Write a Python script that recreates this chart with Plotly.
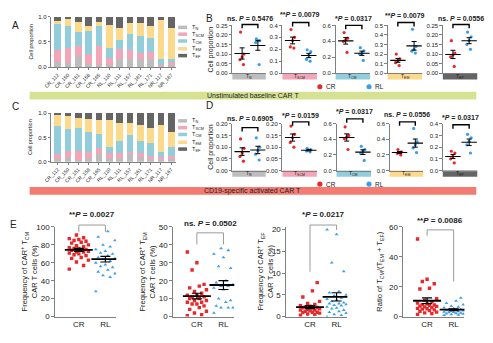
import numpy as np
import plotly.graph_objects as go

W, H = 493, 343
FONT = "Arial, Liberation Sans, sans-serif"

# ---------------- data ----------------
samples = ["CR_112", "CR_150", "CR_151", "CR_158", "CR_165", "RL_110", "RL_111",
           "RL_157", "RL_161", "RL_171", "NR_117", "NR_167"]
subset_labels = ["T<sub>N</sub>", "T<sub>SCM</sub>", "T<sub>CM</sub>", "T<sub>EM</sub>", "T<sub>EF</sub>"]

# Panel A: unstimulated baseline composition
base_tn   = [0.10, 0.08, 0.23, 0.06, 0.05, 0.05, 0.16, 0.16, 0.16, 0.16, 0.03, 0.05]
base_tscm = [0.24, 0.31, 0.20, 0.21, 0.37, 0.14, 0.21, 0.18, 0.13, 0.15, 0.02, 0.05]
base_tcm  = [0.51, 0.42, 0.26, 0.45, 0.39, 0.20, 0.17, 0.32, 0.32, 0.26, 0.11, 0.07]
base_tem  = [0.07, 0.14, 0.20, 0.10, 0.09, 0.45, 0.23, 0.22, 0.26, 0.24, 0.78, 0.60]
base_tef  = [0.08, 0.05, 0.11, 0.18, 0.10, 0.16, 0.23, 0.12, 0.13, 0.19, 0.06, 0.23]

# Panel C: CD19-activated composition
act_tn   = [0.05, 0.10, 0.03, 0.07, 0.15, 0.08, 0.07, 0.15, 0.09, 0.05, 0.03, 0.07]
act_tscm = [0.10, 0.13, 0.20, 0.13, 0.14, 0.09, 0.10, 0.06, 0.10, 0.07, 0.07, 0.04]
act_tcm  = [0.58, 0.44, 0.47, 0.42, 0.27, 0.14, 0.26, 0.34, 0.24, 0.26, 0.11, 0.19]
act_tem  = [0.22, 0.26, 0.20, 0.25, 0.29, 0.55, 0.37, 0.24, 0.32, 0.32, 0.54, 0.32]
act_tef  = [0.05, 0.07, 0.10, 0.13, 0.15, 0.14, 0.20, 0.21, 0.25, 0.30, 0.25, 0.38]

# Panel B: baseline subset proportions (CR vs RL)
b_tn_cr,   b_tn_rl   = [0.215, 0.10, 0.085, 0.07, 0.045], [0.18, 0.17, 0.17, 0.16, 0.045]
b_tscm_cr, b_tscm_rl = [0.366, 0.30, 0.273, 0.22, 0.21], [0.195, 0.18, 0.15, 0.115, 0.10]
b_tcm_cr,  b_tcm_rl  = [0.51, 0.44, 0.42, 0.40, 0.26], [0.32, 0.28, 0.25, 0.24, 0.16]
b_tem_cr,  b_tem_rl  = [0.20, 0.15, 0.13, 0.11, 0.08], [0.46, 0.28, 0.25, 0.23, 0.21]
b_tef_cr,  b_tef_rl  = [0.17, 0.105, 0.095, 0.085, 0.035], [0.215, 0.19, 0.17, 0.15, 0.125]
b_pvals = ["ns. <i>P</i> = 0.5476", "**<i>P</i> = 0.0079", "*<i>P</i> = 0.0317",
           "**<i>P</i> = 0.0079", "ns. <i>P</i> = 0.0556"]

# Panel D: activated subset proportions (CR vs RL)
d_tn_cr,   d_tn_rl   = [0.135, 0.095, 0.075, 0.06, 0.04], [0.14, 0.10, 0.085, 0.07, 0.045]
d_tscm_cr, d_tscm_rl = [0.19, 0.155, 0.14, 0.12, 0.10], [0.095, 0.09, 0.087, 0.083, 0.08]
d_tcm_cr,  d_tcm_rl  = [0.56, 0.45, 0.43, 0.41, 0.27], [0.31, 0.27, 0.25, 0.22, 0.13]
d_tem_cr,  d_tem_rl  = [0.27, 0.24, 0.23, 0.22, 0.20], [0.54, 0.37, 0.33, 0.29, 0.23]
d_tef_cr,  d_tef_rl  = [0.165, 0.15, 0.12, 0.10, 0.065], [0.31, 0.28, 0.25, 0.22, 0.15]
d_pvals = ["ns. <i>P</i> = 0.6905", "*<i>P</i> = 0.0159", "*<i>P</i> = 0.0317",
           "ns. <i>P</i> = 0.0556", "*<i>P</i> = 0.0317"]

# Panel E: cohort-level frequencies
e_tcm_cr = [91, 88, 87, 86, 85, 84, 83, 82, 80, 79, 78, 77, 76, 76, 75, 74, 74, 73, 72, 72,
            71, 70, 69, 68, 66, 65, 63, 61, 57, 53]
e_tcm_rl = [95, 89, 85, 80, 78, 75, 73, 71, 70, 68, 66, 65, 64, 62, 60, 58, 56, 55, 52, 50,
            48, 46, 44, 28]
e_tem_cr = [36, 30, 26, 18, 17, 16, 15, 14, 13, 12, 12, 11, 11, 10, 10, 9, 9, 8, 8, 7, 7, 6,
            5, 4, 3, 2, 1, 0.5]
e_tem_rl = [38, 37, 35, 33, 28, 27, 20, 19, 18, 17, 17, 16, 15, 10, 9, 8, 6, 5, 5, 5, 2]
e_tef_cr = [7.8, 5.9, 4.5, 3.5, 3.0, 2.8, 2.5, 2.4, 2.2, 2.1, 2.0, 2.0, 1.8, 1.6, 1.5, 1.5,
            1.3, 1.2, 1.0, 1.0, 0.9, 0.8, 0.6, 0.5, 0.3]
e_tef_rl = [20.0, 18.9, 12.4, 10.4, 5.8, 5.5, 5.0, 4.8, 4.3, 4.0, 3.8, 3.5, 3.2, 3.0, 3.0,
            2.8, 2.6, 2.5, 2.2, 2.0, 1.8, 1.5, 1.2, 1.0, 0.8, 0.5, 0.3, 0.0]
e_ratio_cr = [52, 25, 23.5, 22, 19, 18.5, 12, 11, 10, 9, 8.5, 8, 7.8, 7.5, 7, 6.8, 6.5, 6,
              5.5, 5.2, 5, 4.5, 4, 3.5, 3, 2.5, 2, 1.5]
e_ratio_rl = [12.5, 10.5, 9, 8, 7, 6.5, 6, 5.5, 5, 4.8, 4.5, 4.2, 4, 3.8, 3.5, 3.2, 3, 2.8,
              2.5, 2.2, 2, 1.8, 1.5, 1.2, 1]
e_pvals = ["**<i>P</i> = 0.0027", "ns. <i>P</i> = 0.0502", "*<i>P</i> = 0.0217", "**<i>P</i> = 0.0086"]
groups = ["CR", "RL"]

# ---------------- styles ----------------
SUBSET_COLORS = ["#bdbdbd", "#f3a6b8", "#92cddb", "#fcd98b", "#656565"]
RED, BLUE = "#e8282b", "#3d9ee6"
AXC = "#808080"

layout = dict(width=W, height=H, margin=dict(l=0, r=0, t=0, b=0), paper_bgcolor="white",
              plot_bgcolor="white", showlegend=False, barmode="stack",
              font=dict(family=FONT, color="#222", size=6))
shapes, annots = [], []
fig = go.Figure()


def names(n):
    return ("xaxis" if n == 1 else f"xaxis{n}", "yaxis" if n == 1 else f"yaxis{n}",
            "x" if n == 1 else f"x{n}", "y" if n == 1 else f"y{n}")


def base_ax(**kw):
    d = dict(showline=True, linecolor=AXC, linewidth=1, ticks="outside", ticklen=2.5,
             tickcolor=AXC, tickwidth=1, showgrid=False, zeroline=False,
             tickfont=dict(family=FONT, size=6, color="#222"))
    d.update(kw)
    return d


def set_axes(n, xpx, ypx, xr, yr, xkw=None, ykw=None):
    xa, ya, xr_, yr_ = names(n)
    layout[xa] = base_ax(domain=[xpx[0] / W, xpx[1] / W], range=xr, anchor=yr_, **(xkw or {}))
    layout[ya] = base_ax(domain=[1 - ypx[1] / H, 1 - ypx[0] / H], range=yr, anchor=xr_, **(ykw or {}))


def text(px, py, s, size, color="#222", xanchor="center", yanchor="middle", angle=0):
    annots.append(dict(x=px / W, y=1 - py / H, xref="paper", yref="paper", text=s, showarrow=False,
                       font=dict(family=FONT, size=size, color=color), xanchor=xanchor,
                       yanchor=yanchor, textangle=angle))


def rect(x0, y0, x1, y1, color):
    shapes.append(dict(type="rect", xref="paper", yref="paper", x0=x0 / W, x1=x1 / W,
                       y0=1 - y1 / H, y1=1 - y0 / H, fillcolor=color, line=dict(width=0),
                       layer="below"))


def circle(cx, cy, r, color):
    shapes.append(dict(type="circle", xref="paper", yref="paper", x0=(cx - r) / W, x1=(cx + r) / W,
                       y0=1 - (cy + r) / H, y1=1 - (cy - r) / H, fillcolor=color,
                       line=dict(width=0)))


def bracket(n, ytop, ydown_left, ydown_right, color="black", width=1.3):
    _, _, xr_, _ = names(n)
    shapes.append(dict(type="path", xref=xr_, yref="paper",
                       path=f"M 0,{1 - ydown_left / H} L 0,{1 - ytop / H} L 1,{1 - ytop / H} L 1,{1 - ydown_right / H}",
                       line=dict(color=color, width=width)))


# ---------------- A & C: stacked bars ----------------
bar_sets = [(1, (13, 65), [base_tn, base_tscm, base_tcm, base_tem, base_tef]),
            (2, (112, 162), [act_tn, act_tscm, act_tcm, act_tem, act_tef])]
for n, ypx, series in bar_sets:
    _, _, xr_, yr_ = names(n)
    for vals, col in zip(series, SUBSET_COLORS):
        fig.add_trace(go.Bar(x=list(range(len(samples))), y=vals, marker=dict(color=col, line=dict(width=0)),
                             width=0.66, xaxis=xr_, yaxis=yr_))
    set_axes(n, (44, 171), ypx, [-0.62, 11.48], [0, 1],
             xkw=dict(tickvals=list(range(len(samples))), ticktext=samples, tickangle=-45,
                      tickfont=dict(family=FONT, size=5, color="#222"), ticklen=2),
             ykw=dict(tickvals=[0, 0.5, 1.0], ticktext=["0.0", "0.5", "1.0"]))
    text(23, (ypx[0] + ypx[1]) / 2, "Cell proportion", 5.5, angle=-90)

# legends for A and C
for rows in ([24, 31, 38, 46, 53], [120, 127, 134, 142, 149]):
    for ry, lab, col in zip(rows, subset_labels, SUBSET_COLORS):
        rect(173, ry - 1.8, 182, ry + 1.8, col)
        text(185, ry, lab, 5.5, xanchor="left")

# ---------------- B & D: CR vs RL dot plots ----------------
jit5 = [-0.10, 0.12, 0.0, -0.14, 0.08]


def dot_panel(n, xpx, ytop, ybot, yr, dtick, fmt, cr, rl, pval, title_y, br_y, box_col, box_lab):
    _, _, xr_, yr_ = names(n)
    for g, (vals, col) in enumerate(((cr, RED), (rl, BLUE))):
        xs = [g + jit5[i % 5] for i in range(len(vals))]
        fig.add_trace(go.Scatter(x=xs, y=vals, mode="markers", xaxis=xr_, yaxis=yr_,
                                 marker=dict(color=col, size=3.2, line=dict(width=0)), cliponaxis=False))
        m = float(np.mean(vals)); se = float(np.std(vals, ddof=1) / np.sqrt(len(vals)))
        fig.add_trace(go.Scatter(x=[g], y=[m], mode="markers", xaxis=xr_, yaxis=yr_,
                                 marker=dict(symbol="line-ew", size=11, color="black",
                                             line=dict(width=1.1, color="black")),
                                 error_y=dict(type="data", array=[se], color="black", thickness=1, width=2.5)))
    set_axes(n, xpx, (ytop, ybot), [-0.625, 1.5], yr,
             xkw=dict(showticklabels=False, ticks=""),
             ykw=dict(dtick=dtick, tickformat=fmt))
    # category box
    rect(xpx[0], ybot, xpx[1], ybot + 6.5, box_col)
    text((xpx[0] + xpx[1]) / 2, ybot + 3.4, box_lab, 5, color="#222")
    # bracket + title
    bracket(n, br_y, br_y + 4, br_y + 4, width=1.4)
    xc = xpx[0] + 10 + 8
    text(xc, title_y, "<b>" + pval + "</b>", 7)


b_x = [(228, 262), (279, 314), (333, 368), (386, 421), (442, 477)]
b_data = [(b_tn_cr, b_tn_rl), (b_tscm_cr, b_tscm_rl), (b_tcm_cr, b_tcm_rl), (b_tem_cr, b_tem_rl), (b_tef_cr, b_tef_rl)]
b_yr = [([0, 0.25], 0.05, ".2f"), ([0, 0.4], 0.1, ".1f"), ([0, 0.6], 0.2, ".1f"),
        ([0, 0.5], 0.1, ".1f"), ([0, 0.25], 0.05, ".2f")]
b_title_y = [15, 11, 15, 12, 15]
b_br_y = [21, 19, 22, 19, 21]
for k in range(5):
    dot_panel(3 + k, b_x[k], 22, 71, b_yr[k][0], b_yr[k][1], b_yr[k][2], b_data[k][0], b_data[k][1],
              b_pvals[k], b_title_y[k], b_br_y[k], SUBSET_COLORS[k], subset_labels[k])

d_x = [(228, 262), (279, 314), (334, 369), (388, 422), (442, 477)]
d_data = [(d_tn_cr, d_tn_rl), (d_tscm_cr, d_tscm_rl), (d_tcm_cr, d_tcm_rl), (d_tem_cr, d_tem_rl), (d_tef_cr, d_tef_rl)]
d_yr = [([0, 0.2], 0.05, ".2f"), ([0, 0.2], 0.05, ".2f"), ([0, 0.6], 0.2, ".1f"),
        ([0, 0.6], 0.2, ".1f"), ([0, 0.4], 0.1, ".1f")]
d_title_y = [118, 115, 110, 113, 117]
d_br_y = [127, 121, 118, 121, 124]
for k in range(5):
    dot_panel(8 + k, d_x[k], 123, 171, d_yr[k][0], d_yr[k][1], d_yr[k][2], d_data[k][0], d_data[k][1],
              d_pvals[k], d_title_y[k], d_br_y[k], SUBSET_COLORS[k], subset_labels[k])

text(206, 47, "Cell proportion", 7, angle=-90)
text(206, 147, "Cell proportion", 7, angle=-90)

# CR / RL legends
for ly in (85, 185):
    circle(317, ly, 2.6, RED)
    text(321, ly, "CR", 6.5, xanchor="left")
    circle(367, ly, 2.6, BLUE)
    text(371, ly, "RL", 6.5, xanchor="left")

# banners
rect(22, 90, 476, 98, "#d6e192")
text(249, 94.3, "Unstimulated baseline CAR T", 7)
rect(22, 188, 476, 196, "#f47b72")
text(249, 192.3, "CD19-specific activated CAR T", 7)

# ---------------- E: cohort scatter ----------------
jit9 = [-0.36, 0.18, -0.09, 0.36, -0.27, 0.09, 0.27, -0.18, 0.0]
e_axes = [48, 168, 283, 402]
e_data = [(e_tcm_cr, e_tcm_rl), (e_tem_cr, e_tem_rl), (e_tef_cr, e_tef_rl), (e_ratio_cr, e_ratio_rl)]
e_yr = [([0, 100], 20), ([0, 50], 10), ([0, 20.6], 5), ([0, 60], 20)]
e_ylab = ["Frequency of CAR<sup>+</sup> T<sub>CM</sub><br>CAR T cells (%)",
          "Frequency of CAR<sup>+</sup> T<sub>EM</sub><br>CAR T cells (%)",
          "Frequency of CAR<sup>+</sup> T<sub>EF</sub><br>CAR T cells (%)",
          "Ratio of T<sub>CM</sub>/(T<sub>EM</sub> + T<sub>EF</sub>)"]
e_ylab_x = [21, 141, 261, 378]
e_title_y = [216, 225, 216, 222]
e_br = [(227, 234, 234), (235, 247, 247), (227, 275, 232), (232, 238, 285)]
for k in range(4):
    n = 13 + k
    _, _, xr_, yr_ = names(n)
    a = e_axes[k]
    for g, (vals, col, sym) in enumerate(((e_data[k][0], RED, "square"), (e_data[k][1], BLUE, "triangle-up"))):
        order = np.argsort(vals)
        xs = [0.0] * len(vals)
        for rank, idx in enumerate(order):
            xs[idx] = g + jit9[rank % 9]
        fig.add_trace(go.Scatter(x=xs, y=vals, mode="markers", xaxis=xr_, yaxis=yr_,
                                 marker=dict(color=col, size=3.4, symbol=sym, line=dict(width=0))))
        m = float(np.mean(vals)); se = float(np.std(vals, ddof=1) / np.sqrt(len(vals)))
        fig.add_trace(go.Scatter(x=[g], y=[m], mode="markers", xaxis=xr_, yaxis=yr_,
                                 marker=dict(symbol="line-ew", size=20, color="black",
                                             line=dict(width=1.8, color="black")),
                                 error_y=dict(type="data", array=[se], color="black", thickness=1.2, width=5)))
    set_axes(n, (a, a + 62), (229, 321), [-24 / 27, 38 / 27], e_yr[k][0],
             xkw=dict(tickvals=[0, 1], ticktext=groups, ticks="", tickfont=dict(family=FONT, size=8, color="#222")),
             ykw=dict(dtick=e_yr[k][1], tick0=0, ticklen=3, tickfont=dict(family=FONT, size=8, color="#222")))
    ytop, yl, yrgt = e_br[k]
    bracket(n, ytop, yl, yrgt, color="#9a9a9a", width=1)
    text(a + 37.5, e_title_y[k], "<b>" + e_pvals[k] + "</b>", 8)
    text(e_ylab_x[k], 275, e_ylab[k], 7.5, angle=-90)

# panel letters
for s, px, py in (("A", 8, 22), ("B", 205, 15), ("C", 8, 105), ("D", 205, 104), ("E", 6, 226)):
    text(px, py, s, 10)

layout["shapes"] = shapes
layout["annotations"] = annots
fig.update_layout(**layout)
fig.write_html("out.html")
